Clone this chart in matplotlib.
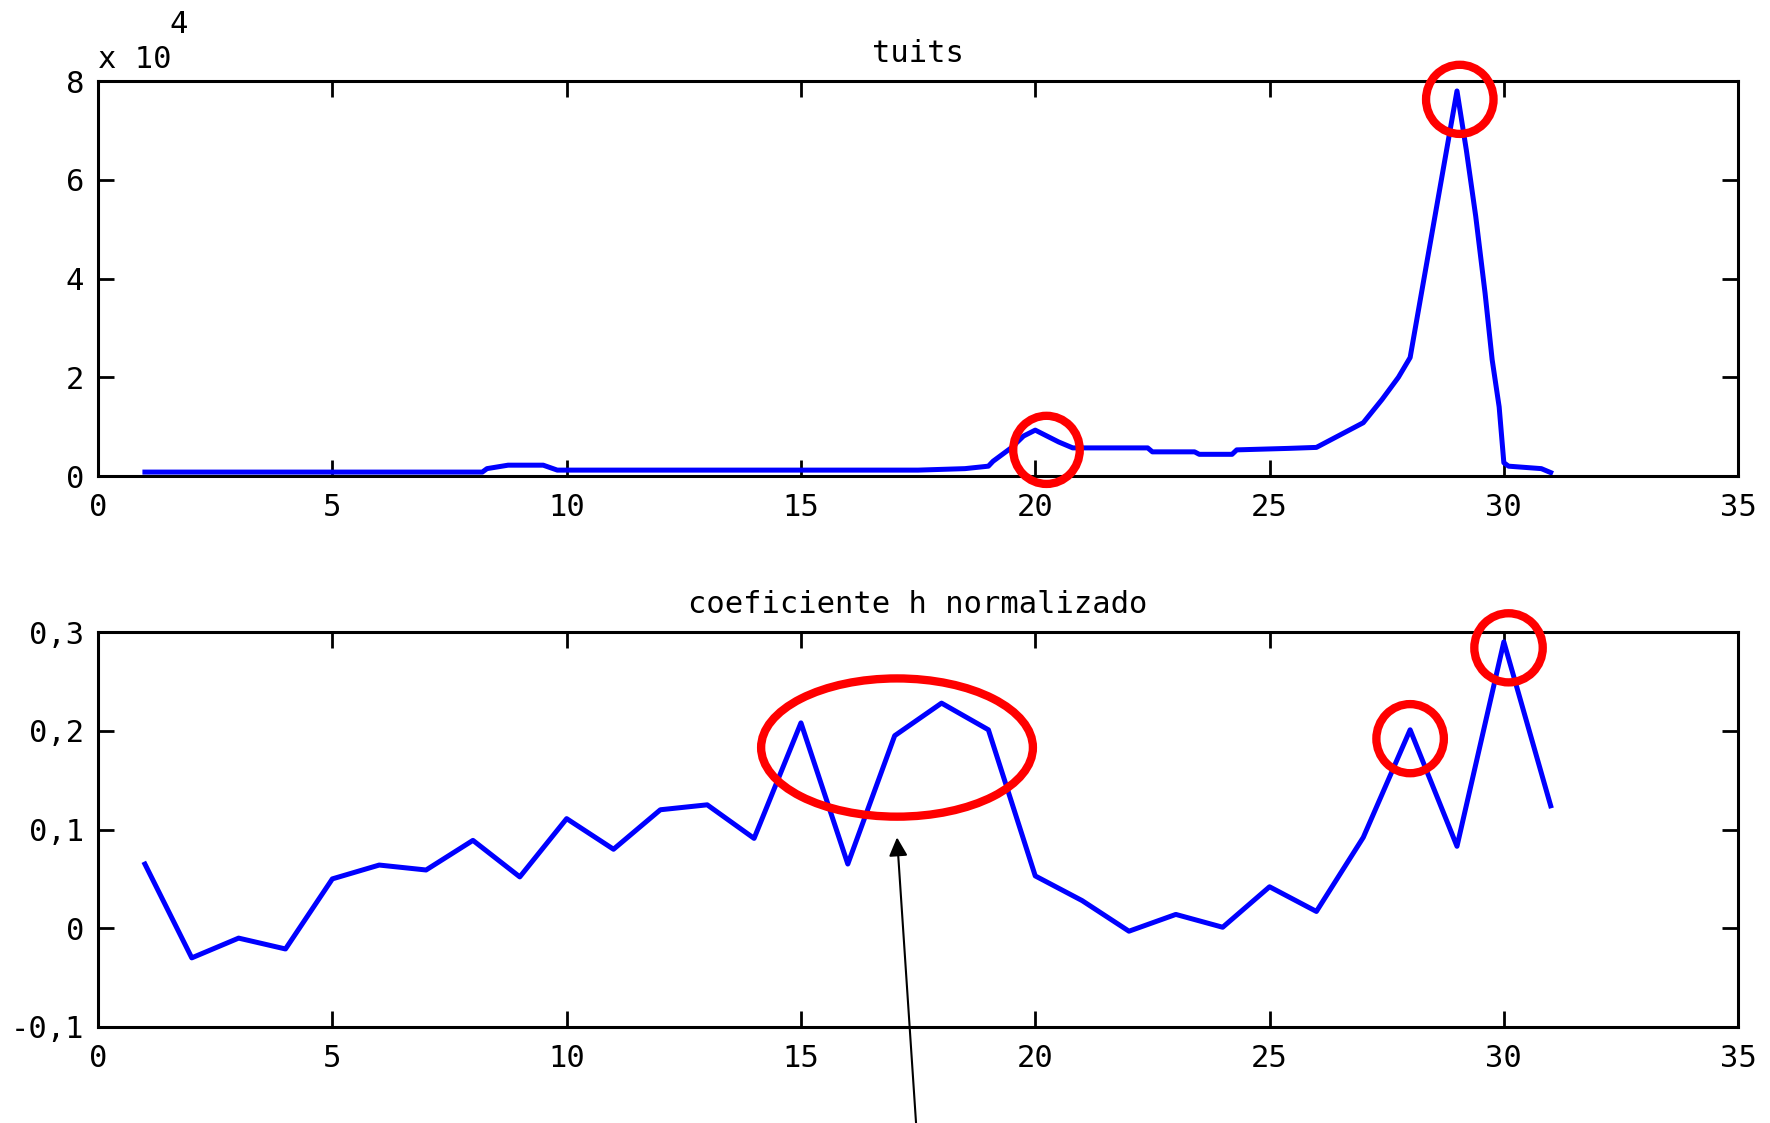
import matplotlib
matplotlib.use("Agg")
import matplotlib.pyplot as plt
from matplotlib.patches import Ellipse
from matplotlib.ticker import FuncFormatter

# -----------------------------
# DATA
# -----------------------------
# tuits (day of month vs count)
tuit_days = [1, 8.2, 8.3, 8.75, 9.5, 9.8, 17.5, 18.5, 19.0, 19.1, 19.5, 19.75,
             20.0, 20.25, 20.5, 20.8, 22.4, 22.5, 23.4, 23.5, 24.2, 24.3, 25.4,
             26.0, 26.4, 27.0, 27.4, 27.75, 28.0, 29.0, 29.2, 29.4, 29.6, 29.75,
             29.9, 30.0, 30.1, 30.8, 31.0]
tuit_counts = [800, 800, 1500, 2200, 2200, 1200, 1200, 1500, 2000, 3000, 5800,
               8100, 9300, 8100, 6900, 5700, 5700, 4900, 4900, 4400, 4400, 5300,
               5600, 5800, 7800, 10800, 15500, 20000, 24000, 78000, 66000,
               52600, 37000, 23600, 14000, 2700, 2000, 1500, 700]

# normalised h coefficient, one value per day
h_days = list(range(1, 32))
h_values = [0.065, -0.030, -0.010, -0.021, 0.050, 0.064, 0.059, 0.089, 0.052,
            0.111, 0.080, 0.120, 0.125, 0.091, 0.208, 0.065, 0.195, 0.228,
            0.201, 0.053, 0.028, -0.003, 0.014, 0.001, 0.042, 0.017, 0.092,
            0.201, 0.083, 0.290, 0.124]

top_yticks = [0, 20000, 40000, 60000, 80000]
bottom_yticks = [-0.1, 0, 0.1, 0.2, 0.3]
xticks = [0, 5, 10, 15, 20, 25, 30, 35]

# highlighted regions: (x, y, width, height)
top_marks = [(20.24, 5300, 1.42, 13800), (29.06, 76300, 1.44, 14000)]
bottom_marks = [(17.05, 0.183, 5.8, 0.140), (28.0, 0.192, 1.44, 0.070),
                (30.1, 0.284, 1.46, 0.070)]
arrow_tip = (17.05, 0.092)
arrow_tail = (17.46, -0.2)

# -----------------------------
# STYLE
# -----------------------------
plt.rcParams["font.family"] = ["DejaVu Sans Mono"]
FS = 22
BLUE = "#0000ff"
RED = "#ff0000"


def style_axes(ax):
    for sp in ax.spines.values():
        sp.set_linewidth(2.2)
    ax.tick_params(direction="in", top=True, right=True, length=11.5,
                   width=2, labelsize=FS)
    ax.tick_params(axis="x", pad=12)
    ax.tick_params(axis="y", pad=10)
    ax.set_xlim(0, 35)
    ax.set_xticks(xticks)


fig = plt.figure(figsize=(17.7, 11.23), dpi=100)

# top: tuits
ax1 = fig.add_axes([0.0554, 0.5761, 0.9266, 0.3517])
ax1.plot(tuit_days, tuit_counts, color=BLUE, lw=3.6)
style_axes(ax1)
ax1.set_ylim(0, 80000)
ax1.set_yticks(top_yticks)
ax1.yaxis.set_major_formatter(FuncFormatter(lambda v, p: f"{v / 1e4:g}"))
ax1.set_title("tuits", fontsize=FS, pad=14)
fig.text(0.0554, 0.9394, "x 10", fontsize=FS, ha="left", va="baseline")
fig.text(0.096, 0.9706, "4", fontsize=FS, ha="left", va="baseline")
for x, y, w, h in top_marks:
    ax1.add_patch(Ellipse((x, y), w, h, fill=False, ec=RED, lw=6,
                          clip_on=False, zorder=5))

# bottom: coeficiente h
ax2 = fig.add_axes([0.0554, 0.0855, 0.9266, 0.3517])
ax2.plot(h_days, h_values, color=BLUE, lw=3.6)
style_axes(ax2)
ax2.set_ylim(-0.1, 0.3)
ax2.set_yticks(bottom_yticks)
ax2.yaxis.set_major_formatter(
    FuncFormatter(lambda v, p: f"{v:.1f}".replace(".", ",") if abs(v) > 1e-9 else "0"))
ax2.set_title("coeficiente h normalizado", fontsize=FS, pad=14)
for x, y, w, h in bottom_marks:
    ax2.add_patch(Ellipse((x, y), w, h, fill=False, ec=RED, lw=6,
                          clip_on=False, zorder=5))
ax2.annotate("", xy=arrow_tip, xytext=arrow_tail, annotation_clip=False,
             arrowprops=dict(arrowstyle="-|>", color="black", lw=1.5,
                             mutation_scale=28, shrinkA=0, shrinkB=0))

fig.savefig("out.png", dpi=100)
